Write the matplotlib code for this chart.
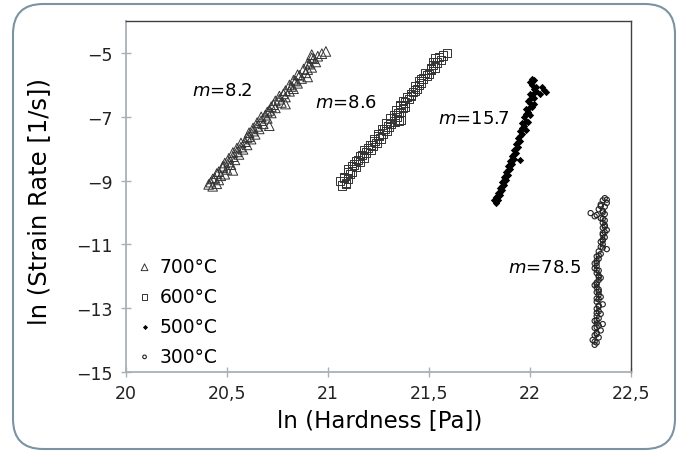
import numpy as np
import matplotlib
matplotlib.use('Agg')
import matplotlib.pyplot as plt
from matplotlib.patches import FancyBboxPatch

# ln(hardness), ln(strain rate), per temperature
x_700 = [20.43, 20.45, 20.42, 20.46, 20.44, 20.47, 20.49, 20.46, 20.50, 20.48,
         20.52, 20.51, 20.54, 20.53, 20.56, 20.55, 20.58, 20.57, 20.60, 20.59,
         20.62, 20.61, 20.64, 20.63, 20.66, 20.65, 20.68, 20.67, 20.70, 20.69,
         20.72, 20.71, 20.74, 20.73, 20.77, 20.76, 20.79, 20.78, 20.81, 20.83,
         20.82, 20.85, 20.84, 20.87, 20.86, 20.89, 20.90, 20.92, 20.91, 20.94,
         20.93, 20.95, 20.97, 20.99, 20.92,
         20.41, 20.43, 20.45, 20.48, 20.49, 20.51, 20.53, 20.55, 20.57, 20.60,
         20.61, 20.63, 20.65, 20.67, 20.70, 20.72, 20.74, 20.76, 20.79, 20.81,
         20.83, 20.85, 20.88, 20.90, 20.92, 20.79, 20.71, 20.90, 20.53]
y_700 = [-9.18, -9.10, -9.05, -8.98, -8.92, -8.85, -8.80, -8.72, -8.65, -8.55,
         -8.50, -8.42, -8.35, -8.25, -8.18, -8.10, -8.02, -7.95, -7.88, -7.78,
         -7.70, -7.62, -7.55, -7.45, -7.38, -7.30, -7.22, -7.12, -7.05, -6.95,
         -6.88, -6.80, -6.72, -6.62, -6.55, -6.45, -6.38, -6.28, -6.20, -6.12,
         -6.05, -5.95, -5.88, -5.80, -5.70, -5.62, -5.52, -5.45, -5.35, -5.28,
         -5.18, -5.10, -5.02, -4.95, -5.05,
         -9.12, -8.95, -8.78, -8.60, -8.45, -8.30, -8.12, -7.98, -7.82, -7.65,
         -7.50, -7.35, -7.18, -7.00, -6.85, -6.68, -6.50, -6.35, -6.18, -6.00,
         -5.85, -5.68, -5.50, -5.32, -5.15, -6.60, -7.28, -5.75, -8.68]

x_600 = [21.07, 21.09, 21.06, 21.10, 21.08, 21.11, 21.12, 21.10, 21.14, 21.13,
         21.16, 21.15, 21.18, 21.17, 21.19, 21.21, 21.20, 21.22, 21.24, 21.23,
         21.26, 21.25, 21.27, 21.29, 21.28, 21.30, 21.31, 21.33, 21.36, 21.31,
         21.33, 21.35, 21.34, 21.37, 21.36, 21.38, 21.40, 21.39, 21.41, 21.42,
         21.44, 21.43, 21.46, 21.45, 21.47, 21.49, 21.48, 21.51, 21.53, 21.52,
         21.54, 21.56, 21.53, 21.57, 21.59,
         21.09, 21.08, 21.10, 21.12, 21.14, 21.16, 21.18, 21.21, 21.23, 21.25,
         21.27, 21.29, 21.34, 21.36, 21.38, 21.37, 21.41, 21.43, 21.45, 21.46,
         21.50, 21.51, 21.52, 21.55, 21.36, 21.35]
y_600 = [-9.15, -9.08, -9.02, -8.95, -8.88, -8.80, -8.72, -8.65, -8.58, -8.50,
         -8.42, -8.35, -8.28, -8.20, -8.12, -8.05, -7.98, -7.90, -7.82, -7.75,
         -7.68, -7.60, -7.52, -7.45, -7.38, -7.30, -7.22, -7.15, -7.10, -7.05,
         -6.95, -6.88, -6.80, -6.72, -6.62, -6.55, -6.45, -6.38, -6.30, -6.22,
         -6.12, -6.05, -5.95, -5.88, -5.80, -5.70, -5.62, -5.52, -5.45, -5.38,
         -5.30, -5.22, -5.15, -5.08, -5.00,
         -9.10, -8.92, -8.75, -8.55, -8.38, -8.22, -8.05, -7.88, -7.70, -7.55,
         -7.38, -7.20, -7.00, -6.85, -6.68, -6.50, -6.35, -6.18, -6.00, -5.82,
         -5.65, -5.48, -5.30, -5.12, -6.68, -7.12]

x_500 = [21.83, 21.84, 21.83, 21.85, 21.84, 21.86, 21.85, 21.87, 21.86, 21.88,
         21.87, 21.89, 21.88, 21.90, 21.89, 21.91, 21.90, 21.92, 21.91, 21.93,
         21.92, 21.95, 21.94, 21.93, 21.95, 21.94, 21.96, 21.95, 21.98, 21.97,
         21.96, 21.98, 21.97, 22.00, 21.99, 21.98, 22.01, 22.00, 21.99, 22.02,
         22.01, 22.00, 22.03, 22.02, 22.06, 22.07, 22.08, 22.01, 22.00, 22.02,
         22.01,
         21.82, 21.84, 21.85, 21.86, 21.87, 21.88, 21.89, 21.90, 21.91, 21.92,
         21.93, 21.94, 21.95, 21.96, 21.99, 21.98, 22.00, 22.00, 22.02, 22.03,
         22.01, 22.05, 22.02]
y_500 = [-9.70, -9.60, -9.52, -9.45, -9.38, -9.30, -9.22, -9.15, -9.05, -8.98,
         -8.90, -8.82, -8.72, -8.65, -8.55, -8.48, -8.40, -8.32, -8.22, -8.15,
         -8.05, -8.35, -7.95, -7.85, -7.75, -7.65, -7.55, -7.45, -7.40, -7.30,
         -7.20, -7.12, -7.00, -6.95, -6.85, -6.75, -6.68, -6.58, -6.50, -6.42,
         -6.35, -6.28, -6.20, -6.12, -6.05, -6.15, -6.22, -6.00, -5.92, -5.85,
         -5.80,
         -9.62, -9.48, -9.35, -9.18, -9.00, -8.85, -8.68, -8.52, -8.35, -8.18,
         -8.00, -7.80, -7.60, -7.35, -7.15, -6.90, -6.70, -6.45, -6.25, -6.05,
         -5.90, -6.30, -6.60]

x_300 = [22.37, 22.36, 22.38, 22.35, 22.37, 22.34, 22.36, 22.30, 22.37, 22.32,
         22.35, 22.37, 22.36, 22.37, 22.36, 22.38, 22.37, 22.36, 22.37, 22.36,
         22.35, 22.36, 22.35, 22.38, 22.34, 22.35, 22.33, 22.34, 22.33, 22.32,
         22.33, 22.32, 22.34, 22.33, 22.34, 22.35, 22.34, 22.33, 22.32, 22.33,
         22.34, 22.33, 22.34, 22.35, 22.34, 22.33, 22.36, 22.34, 22.33, 22.34,
         22.35, 22.33, 22.34, 22.32, 22.33, 22.34, 22.32, 22.35, 22.33, 22.32,
         22.34, 22.31, 22.33, 22.32,
         22.38, 22.35, 22.36, 22.36, 22.37, 22.36, 22.36, 22.36, 22.34, 22.33,
         22.33, 22.34, 22.33, 22.34, 22.33, 22.34, 22.33, 22.33, 22.33, 22.33,
         22.32, 22.33, 22.36]
y_300 = [-9.55, -9.62, -9.70, -9.75, -9.82, -9.90, -9.95, -10.02, -10.05, -10.12,
         -10.18, -10.25, -10.32, -10.40, -10.48, -10.55, -10.62, -10.70, -10.78, -10.85,
         -10.92, -11.00, -11.08, -11.15, -11.22, -11.30, -11.38, -11.45, -11.52, -11.60,
         -11.68, -11.75, -11.82, -11.90, -11.98, -12.05, -12.12, -12.20, -12.28, -12.35,
         -12.42, -12.50, -12.58, -12.65, -12.72, -12.80, -12.88, -12.95, -13.02, -13.10,
         -13.18, -13.25, -13.32, -13.40, -13.48, -13.55, -13.62, -13.70, -13.78, -13.85,
         -13.92, -14.00, -14.08, -14.15,
         -9.60, -9.80, -10.00, -10.20, -10.45, -10.65, -10.88, -11.10, -11.35, -11.58,
         -11.80, -12.02, -12.25, -12.48, -12.70, -12.92, -13.15, -13.38, -13.60, -13.82,
         -14.05, -10.08, -13.50]

labels = ['700°C', '600°C', '500°C', '300°C']
slopes = ['8.2', '8.6', '15.7', '78.5']
slope_pos = [(20.33, -6.16), (20.935, -6.54), (21.545, -7.04), (21.89, -11.70)]

xticks = [20, 20.5, 21, 21.5, 22, 22.5]
xtick_labels = ['20', '20,5', '21', '21,5', '22', '22,5']
yticks = [-15, -13, -11, -9, -7, -5]


fig = plt.figure(figsize=(6.8, 4.52), dpi=100)
ax = fig.add_axes([0.185, 0.175, 0.743, 0.776])

# rounded frame round the whole figure
frame = FancyBboxPatch((0.13, 0.02), 6.62, 4.45, boxstyle='round,pad=0,rounding_size=0.3',
                       transform=fig.dpi_scale_trans, fill=False, edgecolor='#7b93a3',
                       linewidth=1.5, zorder=0)
fig.patches.append(frame)

ax.scatter(x_700, y_700, s=48, marker='^', facecolors='none', edgecolors='#333333',
           linewidths=0.7, label=labels[0])
ax.scatter(x_600, y_600, s=36, marker='s', facecolors='none', edgecolors='#333333',
           linewidths=0.7, label=labels[1])
ax.scatter(x_500, y_500, s=14, marker='D', color='black', linewidths=0, label=labels[2])
ax.scatter(x_300, y_300, s=14, marker='o', facecolors='none', edgecolors='#222222',
           linewidths=0.8, label=labels[3])

for m, (tx, ty) in zip(slopes, slope_pos):
    ax.text(tx, ty, r'$m$=' + m, fontsize=13, va='center', ha='left')

ax.set_xlim(20, 22.5)
ax.set_ylim(-15, -4)
ax.set_xticks(xticks)
ax.set_xticklabels(xtick_labels)
ax.set_yticks(yticks)
ax.tick_params(labelsize=12.5, colors='#222222')
ax.tick_params(axis='both', color='#a9b0b5', direction='inout', length=7, width=1)
ax.tick_params(axis='x', pad=5)
ax.tick_params(axis='y', pad=6)

for s in ['left', 'bottom']:
    ax.spines[s].set_color('#a9b0b5')
    ax.spines[s].set_linewidth(1.3)
for s in ['top', 'right']:
    ax.spines[s].set_color('#404040')
    ax.spines[s].set_linewidth(1.0)

ax.set_xlabel('ln (Hardness [Pa])', fontsize=16.5)
ax.set_ylabel('ln (Strain Rate [1/s])', fontsize=17.5)
ax.xaxis.set_label_coords(0.503, -0.105)
ax.yaxis.set_label_coords(-0.148, 0.49)

leg = ax.legend(loc='lower left', bbox_to_anchor=(0.0, -0.02), frameon=False, fontsize=13.5,
                handlelength=0.6, handletextpad=0.5, labelspacing=0.58, markerscale=0.7,
                borderaxespad=0.3)

fig.savefig('out.png', dpi=100)
